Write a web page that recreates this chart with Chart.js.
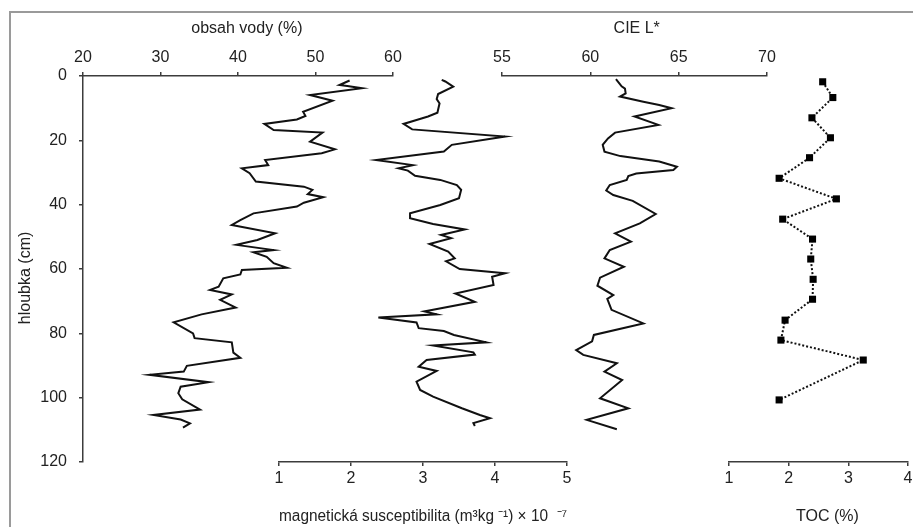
<!DOCTYPE html>
<html>
<head>
<meta charset="utf-8">
<script src="https://cdn.jsdelivr.net/npm/chart.js@4.4.1/dist/chart.umd.min.js"></script>
<style>
html,body{margin:0;padding:0;background:#fff;}
#wrap{position:relative;width:913px;height:527px;overflow:hidden;background:#fff;}
#frame{position:absolute;left:9px;top:11px;right:-10px;bottom:-10px;border-left:2px solid #9a9a9a;border-top:2px solid #9a9a9a;pointer-events:none;}
canvas{position:absolute;left:0;top:0;}
</style>
</head>
<body>
<div id="wrap"><canvas id="c" width="913" height="527"></canvas><div id="frame"></div></div>
<script>
// ---- tick labels ----
const depthTicks = [0, 20, 40, 60, 80, 100, 120];
const waterTicks = [20, 30, 40, 50, 60];
const lightTicks = [55, 60, 65, 70];
const magTicks = [1, 2, 3, 4, 5];
const tocTicks = [1, 2, 3, 4];

// ---- obsah vody (%) ----
const waterDepth = [1.4, 2.8, 3.1, 3.8, 5.9, 7.7, 11.1, 12.4, 13.5, 14.9, 16.8, 17.6, 20.4, 22.8, 24.0, 26.1, 27.7, 28.7, 30.2, 32.8, 34.4, 35.4, 36.7, 37.7, 39.4, 40.6, 42.7, 44.8, 46.3, 48.9, 51.0, 52.5, 54.1, 54.8, 56.2, 58.2, 59.6, 60.3, 61.7, 62.9, 65.5, 66.5, 67.9, 69.6, 72.0, 74.1, 76.6, 80.0, 81.5, 82.8, 86.0, 87.6, 90.1, 91.9, 92.9, 95.2, 96.6, 98.6, 100.5, 103.7, 105.4, 106.8, 108.0, 109.3];
const waterValue = [54.4, 53.1, 54.1, 56.0, 49.3, 52.2, 48.4, 48.7, 47.6, 43.4, 44.6, 50.9, 49.3, 52.5, 50.8, 43.5, 43.9, 40.5, 41.5, 42.3, 48.5, 49.6, 49.0, 51.0, 48.5, 47.6, 42.0, 40.3, 39.2, 44.8, 42.5, 39.8, 44.6, 42.0, 43.7, 44.6, 46.3, 40.5, 40.3, 38.1, 37.5, 36.4, 39.2, 37.7, 39.7, 35.3, 31.7, 34.2, 34.4, 39.2, 39.4, 40.3, 33.4, 33.0, 28.6, 36.2, 32.6, 32.3, 32.8, 35.1, 29.1, 32.6, 33.8, 32.9];

// ---- magnetická susceptibilita ----
const magDepth = [1.2, 1.7, 3.3, 5.6, 7.2, 8.5, 11.4, 12.6, 13.7, 14.9, 16.6, 18.8, 21.4, 23.5, 26.1, 27.7, 28.7, 29.4, 31.0, 32.3, 33.9, 35.4, 38.0, 40.1, 42.7, 44.2, 46.0, 47.7, 49.4, 50.4, 52.2, 54.6, 56.7, 57.6, 60.0, 61.3, 62.4, 65.0, 67.6, 70.2, 72.7, 73.2, 74.1, 75.1, 76.6, 78.4, 79.3, 80.5, 82.8, 83.8, 85.9, 86.6, 88.3, 90.4, 91.7, 95.0, 97.6, 99.7, 103.3, 105.4, 106.4, 107.9, 108.8];
const magValue = [3.26, 3.31, 3.42, 3.21, 3.19, 3.23, 3.20, 3.07, 2.91, 2.73, 2.85, 4.14, 3.40, 3.29, 2.35, 2.86, 2.66, 2.79, 2.89, 3.24, 3.47, 3.53, 3.50, 3.24, 2.82, 2.82, 3.14, 3.58, 3.25, 3.39, 3.09, 3.35, 3.44, 3.32, 3.51, 4.14, 3.96, 3.98, 3.45, 3.72, 3.14, 3.02, 3.19, 2.38, 2.91, 2.94, 3.29, 3.43, 3.88, 3.14, 3.70, 3.72, 3.05, 2.94, 3.19, 2.91, 2.96, 3.14, 3.54, 3.79, 3.93, 3.70, 3.72];

// ---- CIE L* ----
const lightDepth = [1.0, 2.3, 3.2, 3.9, 5.4, 6.4, 8.0, 9.0, 10.0, 12.6, 15.2, 17.6, 19.4, 21.4, 23.5, 24.9, 26.6, 28.2, 29.2, 30.3, 31.1, 32.3, 33.9, 35.6, 37.0, 38.8, 42.9, 45.8, 48.9, 51.5, 54.1, 56.7, 59.3, 62.7, 65.2, 68.1, 69.3, 72.7, 76.9, 80.5, 82.5, 85.2, 86.7, 89.3, 91.9, 94.5, 100.2, 103.3, 106.9, 109.8];
const lightValue = [61.45, 61.64, 61.77, 61.96, 62.0, 61.68, 63.0, 63.9, 64.6, 62.5, 63.85, 61.4, 61.0, 60.7, 60.8, 61.7, 63.9, 64.9, 64.7, 62.6, 62.15, 62.06, 61.1, 60.9, 61.3, 62.4, 63.7, 62.8, 61.4, 62.3, 61.1, 60.8, 61.9, 60.55, 60.4, 61.3, 60.96, 61.2, 63.0, 60.2, 60.1, 59.2, 59.6, 61.5, 60.8, 61.8, 60.55, 62.15, 59.8, 61.5];

// ---- TOC (%) ----
const tocDepth = [1.8, 6.7, 13.0, 19.2, 25.4, 31.8, 38.2, 44.5, 50.7, 56.9, 63.2, 69.4, 75.9, 82.1, 88.3, 100.7];
const tocValue = [2.57, 2.74, 2.39, 2.70, 2.35, 1.84, 2.80, 1.90, 2.40, 2.37, 2.41, 2.40, 1.94, 1.87, 3.25, 1.84];

function pts(depth, value) { return depth.map((d, i) => ({ x: value[i], y: d })); }
function fixedTicks(arr) { return s => { s.ticks = arr.map(v => ({ value: v })); }; }

const AX = '#3c3c3c';
const TXT = '#222222';
const LINE = '#111111';

Chart.defaults.font.family = "'Liberation Sans', Arial, Helvetica, sans-serif";
Chart.defaults.font.size = 16;
Chart.defaults.color = TXT;

function fixH(h) { return s => { s.height = h; s.paddingLeft = 0; s.paddingRight = 0; }; }

function xAxis(pos, w, weight, min, max, tickArr, title, align) {
  const top = pos === 'top';
  return {
    type: 'linear', axis: 'x', position: pos, stack: top ? 'T' : 'B', stackWeight: w, weight: weight,
    min: min, max: max,
    afterBuildTicks: fixedTicks(tickArr),
    ticks: { maxRotation: 0, minRotation: 0, autoSkip: false, padding: top ? 5 : 3, color: TXT },
    grid: { drawOnChartArea: false, drawTicks: true, tickLength: 4, color: AX, lineWidth: 1.5 },
    border: { display: true, color: AX, width: 1.5 },
    title: { display: true, text: title, color: TXT, align: align || 'center',
             padding: top ? { top: 19, bottom: 0 } : { top: 0, bottom: 1 } },
    afterFit: fixH(top ? 76 : 65)
  };
}
function gap(pos, w, weight) {
  return { type: 'linear', axis: 'x', position: pos, stack: pos === 'top' ? 'T' : 'B', stackWeight: w, weight: weight,
           display: false, afterFit: fixH(pos === 'top' ? 76 : 65) };
}

const lineDs = (label, d, v, xid) => ({
  label: label, data: pts(d, v), xAxisID: xid, yAxisID: 'y', showLine: true,
  borderColor: LINE, backgroundColor: LINE, borderWidth: 2, pointRadius: 0, tension: 0, fill: false
});

new Chart(document.getElementById('c'), {
  type: 'scatter',
  data: {
    datasets: [
      lineDs('obsah vody (%)', waterDepth, waterValue, 'xW'),
      lineDs('magnetická susceptibilita', magDepth, magValue, 'xM'),
      lineDs('CIE L*', lightDepth, lightValue, 'xL'),
      {
        label: 'TOC (%)', data: pts(tocDepth, tocValue), xAxisID: 'xT', yAxisID: 'y', showLine: true,
        borderColor: LINE, backgroundColor: '#000', borderWidth: 2, borderDash: [2, 2],
        pointStyle: 'rect', pointRadius: 5, pointBorderWidth: 0, pointBackgroundColor: '#000', tension: 0
      }
    ]
  },
  options: {
    responsive: false, animation: false, devicePixelRatio: 1,
    layout: { padding: { left: 0, top: 0, right: 5, bottom: 0 } },
    plugins: { legend: { display: false }, tooltip: { enabled: false } },
    events: [],
    scales: {
      y: {
        type: 'linear', axis: 'y', position: 'left', reverse: true, min: 0, max: 120,
        afterBuildTicks: fixedTicks(depthTicks),
        ticks: { padding: 12, color: TXT },
        grid: { drawOnChartArea: false, drawTicks: true, tickLength: 4, color: AX, lineWidth: 1.5 },
        border: { display: true, color: AX, width: 1.5 },
        title: { display: true, text: 'hloubka (cm)    ', color: TXT, padding: { top: 16, bottom: 0 } },
        afterFit: s => { s.width = 83; s.paddingTop = 0; s.paddingBottom = 0; }
      },
      xW: xAxis('top', 310, 4, 20, 60, waterTicks, '    obsah vody (%)'),
      gT1: gap('top', 109, 3),
      xL: xAxis('top', 265, 2, 55, 70, lightTicks, ' CIE L*'),
      gT2: gap('top', 141, 1),
      gB1: gap('bottom', 196, 1),
      xM: xAxis('bottom', 288, 2, 1, 5, magTicks, 'magnetická susceptibilita (m³kg ⁻¹) × 10  ⁻⁷', 'start'),
      gB2: gap('bottom', 162, 3),
      xT: xAxis('bottom', 179, 4, 1, 4, tocTicks, '    TOC (%)')
    }
  }
});
</script>
</body>
</html>
